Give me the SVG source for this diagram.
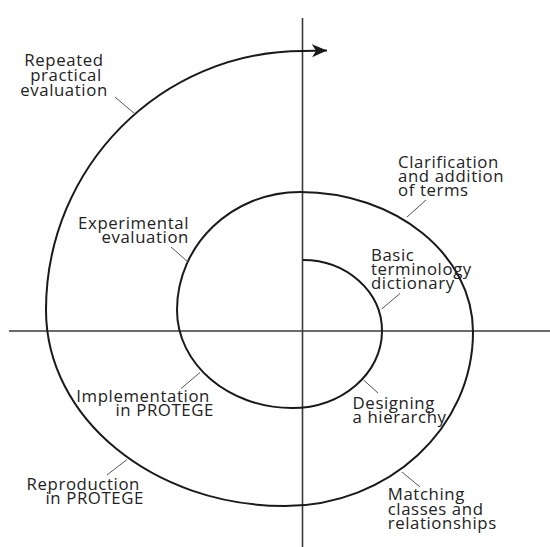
<svg xmlns="http://www.w3.org/2000/svg" width="550" height="547" viewBox="0 0 550 547">
<style>
.axis{stroke:#3a3a3a;stroke-width:1.6;fill:none}
.spiral{stroke:#1a1a1a;stroke-width:2;fill:none}
.leader{stroke:#555;stroke-width:1;fill:none}
text{font-family:"Open Sans","Noto Sans","DejaVu Sans",sans-serif;font-size:16.8px;letter-spacing:0.6px;fill:#222}
</style>
<defs>
<marker id="arrow" markerUnits="userSpaceOnUse" markerWidth="16" markerHeight="14" refX="15" refY="7" orient="auto">
<path d="M15,7 L0,0.5 L4,7 L0,13.5 Z" fill="#1a1a1a"/>
</marker>
</defs>
<g id="connectors">
<line class="axis" x1="302.5" y1="18" x2="302.5" y2="547"/>
<line class="axis" x1="9" y1="331" x2="550" y2="331"/>
<path class="spiral" marker-end="url(#arrow)" d="M303,260 C346.6,260 382,291.8 382,331 C382,373.5 341.7,408 292,408 C228.5,408 177,364.1 177,310 C177,244.9 232.1,192 300,192 C395.5,192 473,254.7 473,332 C473,428 388.8,506 285,506 C153.1,506 46,418.2 46,310 C46,167 161.1,51 303,51 L327,50.5"/>
<line class="leader" x1="115" y1="97" x2="135" y2="114"/>
<line class="leader" x1="426" y1="200" x2="407" y2="217"/>
<line class="leader" x1="171" y1="247" x2="188" y2="262"/>
<line class="leader" x1="400" y1="293.5" x2="381.7" y2="309"/>
<line class="leader" x1="363.5" y1="380" x2="378" y2="393"/>
<line class="leader" x1="181" y1="388.5" x2="200" y2="372.5"/>
<line class="leader" x1="107" y1="475" x2="127" y2="459.5"/>
<line class="leader" x1="402" y1="472" x2="420" y2="487"/>
</g>
<g id="repeated-practical-evaluation">
<text x="64" y="66" text-anchor="middle">Repeated</text>
<text x="66" y="80.8" text-anchor="middle">practical</text>
<text x="64" y="95.5" text-anchor="middle">evaluation</text>
</g>
<g id="clarification">
<text x="398" y="168">Clarification</text>
<text x="398" y="182">and addition</text>
<text x="398" y="196">of terms</text>
</g>
<g id="experimental-evaluation">
<text x="189" y="228.5" text-anchor="end">Experimental</text>
<text x="189" y="242.7" text-anchor="end">evaluation</text>
</g>
<g id="basic-terminology">
<text x="371" y="261">Basic</text>
<text x="371" y="275">terminology</text>
<text x="371" y="289">dictionary</text>
</g>
<g id="designing-hierarchy">
<text x="352.6" y="408.7">Designing</text>
<text x="352.6" y="422.7">a hierarchy</text>
</g>
<g id="implementation">
<text x="210" y="401.5" text-anchor="end">Implementation</text>
<text x="214" y="415.7" text-anchor="end">in PROTEGE</text>
</g>
<g id="reproduction">
<text x="140" y="490.3" text-anchor="end">Reproduction</text>
<text x="144" y="504.3" text-anchor="end">in PROTEGE</text>
</g>
<g id="matching">
<text x="387.7" y="500.3">Matching</text>
<text x="387.7" y="514.7">classes and</text>
<text x="387.7" y="529">relationships</text>
</g>
</svg>
